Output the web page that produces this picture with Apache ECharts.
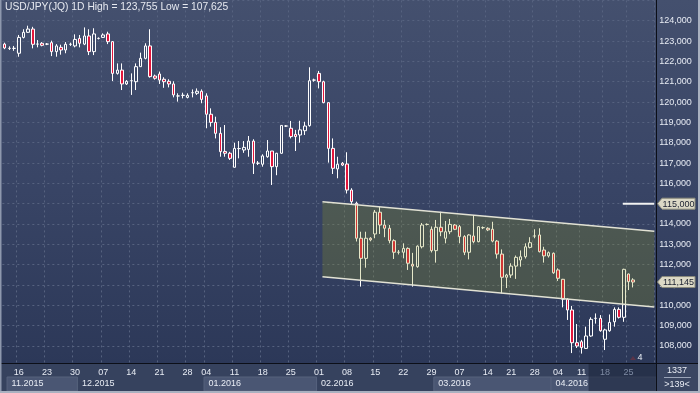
<!DOCTYPE html>
<html><head><meta charset="utf-8">
<script src="https://cdn.jsdelivr.net/npm/echarts@6/dist/echarts.min.js"></script>
<style>html,body{margin:0;padding:0;background:#2e3a58;}#c{width:700px;height:393px;}</style>
</head><body><div id="c"></div>
<script>
// ---- data ----
const opens = [122.85,122.64,122.64,122.40,123.18,123.43,123.59,122.85,122.89,122.85,
 122.92,122.48,122.69,122.56,122.84,122.76,123.13,122.85,123.25,122.48,
 123.13,123.18,123.35,122.97,121.41,121.57,120.89,121.05,121.00,121.74,
 122.15,122.76,121.28,121.38,121.12,121.02,120.89,120.30,120.33,120.23,
 120.46,120.43,120.53,120.30,119.40,119.00,118.46,117.57,117.48,116.79,
 117.71,117.64,117.67,118.08,116.99,116.94,117.31,117.59,116.82,117.48,
 118.82,118.71,118.41,118.38,118.59,118.84,121.08,121.41,121.00,119.97,
 117.72,116.71,116.99,116.95,115.67,115.02,113.30,112.31,113.30,113.51,
 114.58,113.95,113.79,113.18,112.61,112.61,112.80,112.02,111.90,112.88,
 113.98,113.74,112.69,113.84,113.30,113.62,113.95,113.87,113.38,112.61,
 113.41,113.13,113.82,113.79,113.74,113.16,112.52,111.38,111.49,111.93,
 112.23,112.39,112.85,113.41,113.46,112.72,112.43,112.56,111.74,111.28,
 110.30,109.77,108.16,108.21,107.88,108.49,109.36,109.36,108.33,108.75,
 109.19,109.80,109.41,111.54,111.25];
const closes = [122.66,122.64,122.64,123.18,123.43,123.59,122.84,122.85,122.79,122.85,
 122.48,122.76,122.56,122.84,122.84,123.08,122.89,123.25,122.48,123.35,
 123.13,123.30,122.97,121.41,121.57,120.89,121.02,121.05,121.74,122.15,
 122.76,121.25,121.17,121.08,121.00,120.89,120.35,120.30,120.33,120.33,
 120.46,120.53,120.13,119.40,119.00,118.46,117.56,117.48,117.23,117.72,
 117.71,117.77,118.08,116.99,116.99,117.35,117.59,116.82,117.48,118.85,
 118.82,118.30,118.30,118.63,118.82,121.05,121.08,121.00,119.97,117.72,
 116.74,116.94,116.90,115.67,115.10,113.30,112.31,113.30,113.22,114.58,
 113.95,113.79,113.18,112.61,112.61,112.80,112.07,111.93,112.91,113.95,
 113.98,112.69,113.84,113.62,113.62,113.98,113.74,113.38,112.61,113.46,
 113.13,113.87,113.82,113.71,113.16,112.52,111.38,111.49,111.93,112.36,
 112.39,112.88,113.08,113.41,112.64,112.43,112.59,111.60,111.33,110.30,
 109.77,108.16,108.00,107.92,108.49,109.31,109.36,108.75,108.79,109.16,
 109.80,109.41,111.77,111.16,111.145];
const lows = [122.60,122.56,122.52,122.23,123.13,123.40,122.64,122.69,122.74,122.80,
 122.26,122.23,122.33,122.40,122.76,122.69,122.69,122.80,122.31,122.31,
 123.08,123.15,122.85,121.03,121.35,120.59,120.84,120.35,120.59,121.74,
 122.10,121.20,121.10,120.89,120.70,120.72,120.23,120.02,120.18,120.18,
 120.23,120.35,119.94,118.71,118.79,118.21,117.31,117.31,117.15,116.79,
 117.23,117.50,117.31,116.46,116.90,116.82,117.26,115.92,116.40,117.45,
 118.78,118.21,117.59,118.00,118.38,118.79,121.00,120.67,119.94,117.02,
 116.46,116.25,116.85,115.50,114.95,113.14,110.92,111.85,113.15,113.30,
 113.51,113.35,113.05,112.28,112.50,112.31,111.74,110.92,111.85,112.80,
 113.93,112.60,112.10,113.40,113.05,113.50,113.70,113.05,112.47,112.26,
 113.05,113.10,113.75,113.65,113.10,112.30,110.59,110.85,111.35,111.30,
 111.90,112.30,112.80,113.30,112.60,112.10,112.35,111.55,111.20,109.90,
 109.28,107.65,107.90,107.625,107.85,108.45,109.10,108.70,107.80,108.70,
 108.95,109.35,109.19,110.75,110.88];
const highs = [122.92,122.74,122.76,123.30,123.58,123.755,123.70,123.05,122.95,122.90,
 123.02,122.85,122.82,122.95,122.92,123.33,123.30,123.67,123.58,123.63,
 123.18,123.38,123.46,123.00,121.90,121.90,121.08,121.41,121.90,122.43,
 122.89,123.58,121.35,121.50,121.22,121.12,121.02,120.43,120.46,120.43,
 120.62,120.67,120.62,120.43,119.69,119.28,118.76,118.87,117.55,118.00,
 118.08,118.08,118.33,118.17,117.10,117.43,118.13,117.59,117.50,118.85,
 118.86,119.07,118.63,119.08,119.03,121.71,121.15,121.53,121.05,119.97,
 118.21,117.31,117.05,117.53,115.76,115.10,113.62,113.62,113.35,114.69,
 114.85,114.20,113.95,113.25,112.72,113.05,112.85,112.58,112.95,114.05,
 114.03,113.88,114.20,114.60,114.15,114.25,114.00,113.95,113.45,113.50,
 114.44,113.90,113.88,113.84,114.11,113.21,112.75,111.55,112.07,112.45,
 112.70,113.05,113.35,113.74,113.79,112.88,112.65,112.60,111.82,111.30,
 110.35,109.97,109.08,108.30,108.95,109.41,109.60,109.52,108.85,109.55,
 109.90,109.90,111.80,111.56,111.33];
const slotCount = 139;
const tickIdx = [3,9,15,21,27,33,39,43,49,55,61,67,73,79,85,91,97,103,108,113,118,123,128,133];
const tickLabels = ['16','23','30','07','14','21','28','04','11','18','25','01','08','15','22','29','07','14','21','28','04','11','18','25'];
const monthStart = [1,16,43,67,92,117];
const monthLabels = ['11.2015','12.2015','01.2016','02.2016','03.2016','04.2016'];
const monthShaded = [true,false,true,false,true,true];
const chanX = [67.75, 138.5];
const chanTop = [115.10, 113.64];
const chanBot = [111.41, 109.92];
const levelX = [131.8, 138.5];
const levelValue = 115.0;
const lastPrice = 111.145;
const titleText = 'USD/JPY(JQ) 1D High = 123,755 Low = 107,625';
const footerTop = '1337';
const footerBottom = '>139<';
const futureFrom = 124.5;

// ---- chart ----
const FONT = 'Liberation Sans';
const FS = 9;
const chart = echarts.init(document.getElementById('c'));
const categories = Array.from({length: slotCount}, (_, i) => String(i));
const ohlc = opens.map((o, i) => [o, closes[i], lows[i], highs[i]]);
const tickMap = {};
tickIdx.forEach((k, j) => { tickMap[k] = tickLabels[j]; });
const fmt = v => v.toFixed(3).replace('.', ',');
const gridCol = '#56627f';

chart.setOption({
  animation: false,
  backgroundColor: '#2e3a58',
  title: {text: titleText, left: 5, top: 2, padding: 0,
    textStyle: {color: '#e6e9f0', fontSize: 10.3, fontWeight: 'normal', fontFamily: FONT}},
  grid: {left: 2.35, width: 651.9, top: 0.4, height: 365.9},
  xAxis: [
    {type: 'category', data: categories, boundaryGap: true, z: 0,
      axisLine: {show: false}, axisTick: {show: false}, axisLabel: {show: false},
      splitLine: {show: true, interval: (i) => (i in tickMap), lineStyle: {color: gridCol, type: [2, 3], width: 1}}},
    {type: 'value', min: -0.5, max: slotCount - 0.5, show: false},
    {type: 'category', data: categories, boundaryGap: true, position: 'bottom', z: 5,
      axisLine: {show: false}, axisTick: {show: false}, splitLine: {show: false},
      axisLabel: {interval: (i) => (i in tickMap), formatter: (v, i) => tickMap[i] || '',
        color: (v, i) => (Number(v) > futureFrom ? '#7f8ba3' : '#e8ecf4'),
        fontSize: FS, fontFamily: FONT, margin: 2}}
  ],
  yAxis: [{type: 'value', position: 'right', min: 107, max: 125, interval: 1,
    axisLine: {show: false}, axisTick: {show: false},
    splitLine: {lineStyle: {color: gridCol, type: [2, 3], width: 1}},
    axisLabel: {margin: 5, color: '#e8ecf4', fontSize: FS, fontFamily: FONT,
      formatter: v => (v < 107.5 || v > 124.5) ? '' : fmt(v)}}],
  series: [
    {type: 'candlestick', xAxisIndex: 0, yAxisIndex: 0, data: ohlc, barWidth: 3, z: 2,
      itemStyle: {color: 'rgba(0,0,0,0)', color0: '#e3163c', borderColor: '#ffffff',
        borderColor0: '#ffffff', borderColorDoji: '#ffffff', borderWidth: 1}},
    {type: 'custom', xAxisIndex: 1, yAxisIndex: 0, z: 4, clip: true, data: [[chanX[0], chanTop[0]]],
      renderItem: (params, api) => {
        const top = chanX.map((x, i) => api.coord([x, chanTop[i]]));
        const bot = chanX.map((x, i) => api.coord([x, chanBot[i]]));
        return {type: 'group', children: [
          {type: 'polygon', shape: {points: top.concat(bot.slice().reverse())},
            style: {fill: 'rgba(150,160,30,0.24)'}},
          {type: 'polyline', shape: {points: top}, style: {stroke: '#e2e2d4', lineWidth: 1.5, fill: null}},
          {type: 'polyline', shape: {points: bot}, style: {stroke: '#e2e2d4', lineWidth: 1.5, fill: null}}
        ]};
      }},
    {type: 'line', xAxisIndex: 1, yAxisIndex: 0, symbol: 'none', z: 4,
      data: levelX.map(x => [x, levelValue]),
      lineStyle: {color: '#f2f2f2', width: 2}}
  ]
});

const px = idx => chart.convertToPixel({xAxisIndex: 1}, idx);
const py = v => chart.convertToPixel({yAxisIndex: 0}, v);
const g = [];
g.push({type: 'rect', z: -100, silent: true, shape: {x: 0, y: 0, width: 700, height: 393},
  style: {fill: new echarts.graphic.LinearGradient(0, 0, 0, 1, [
    {offset: 0, color: '#44506e'}, {offset: 0.45, color: '#394566'}, {offset: 1, color: '#2a3656'}])}});
g.push({type: 'rect', z: 1, silent: true, shape: {x: 0, y: 363, width: 656, height: 30}, style: {fill: '#36425e'}});
monthStart.forEach((s, j) => {
  const x0 = px(s - 0.5);
  const x1 = j + 1 < monthStart.length ? px(monthStart[j + 1] - 0.5) : 656;
  if (monthShaded[j]) {
    g.push({type: 'rect', z: 1, silent: true, shape: {x: x0, y: 377, width: x1 - x0, height: 14},
      style: {fill: '#4a5673', stroke: '#56627d', lineWidth: 1}});
  }
});
const xf = px(futureFrom);
g.push({type: 'rect', z: 1, silent: true, shape: {x: xf, y: 363, width: 656 - xf, height: 30}, style: {fill: 'rgba(28,38,62,0.6)'}});
monthStart.forEach((s, j) => {
  g.push({type: 'text', z: 6, silent: true, x: px(s - 0.5) + 4.5, y: 383.5,
    style: {text: monthLabels[j], fill: '#e8ecf4', font: FS + 'px ' + FONT, textVerticalAlign: 'middle'}});
});
g.push({type: 'rect', z: 1, silent: true, shape: {x: 656, y: 363, width: 44, height: 30}, style: {fill: '#3a4662'}});
g.push({type: 'text', z: 6, silent: true, x: 677, y: 371, style: {text: footerTop, fill: '#e8ecf4', font: FS + 'px ' + FONT, textAlign: 'center', textVerticalAlign: 'middle'}});
g.push({type: 'line', z: 6, silent: true, shape: {x1: 664, y1: 377.5, x2: 691, y2: 377.5}, style: {stroke: '#9aa4b8', lineWidth: 1}});
g.push({type: 'text', z: 6, silent: true, x: 677, y: 384.5, style: {text: footerBottom, fill: '#e8ecf4', font: FS + 'px ' + FONT, textAlign: 'center', textVerticalAlign: 'middle'}});
g.push({type: 'line', z: 7, silent: true, shape: {x1: 0, y1: 363.5, x2: 700, y2: 363.5}, style: {stroke: '#0c0f18', lineWidth: 1}});
g.push({type: 'line', z: 7, silent: true, shape: {x1: 656.5, y1: 0, x2: 656.5, y2: 393}, style: {stroke: '#0c0f18', lineWidth: 1}});
g.push({type: 'rect', z: 8, silent: true, shape: {x: 0, y: 0, width: 1.5, height: 393}, style: {fill: '#8e98ad'}});
g.push({type: 'rect', z: 8, silent: true, shape: {x: 698, y: 0, width: 2, height: 393}, style: {fill: '#a9b1c0'}});
g.push({type: 'rect', z: 8, silent: true, shape: {x: 0, y: 391, width: 700, height: 2}, style: {fill: '#a9b1c0'}});
g.push({type: 'polygon', z: 6, silent: true, shape: {points: [[630, 360], [633, 356], [636, 360]]}, style: {fill: '#5a3448'}});
g.push({type: 'text', z: 6, silent: true, x: 640, y: 358, style: {text: '4', fill: '#e8ecf4', font: FS + 'px ' + FONT, textAlign: 'center', textVerticalAlign: 'middle'}});
[levelValue, lastPrice].forEach(v => {
  const y = py(v);
  g.push({type: 'polygon', z: 9, silent: true,
    shape: {points: [[657.5, y], [662, y - 5.5], [695, y - 5.5], [695, y + 5.5], [662, y + 5.5]]},
    style: {fill: '#dcd9c6', stroke: '#8b8b7c', lineWidth: 1}});
  g.push({type: 'text', z: 10, silent: true, x: 678.5, y: y + 0.5,
    style: {text: fmt(v), fill: '#1b2030', font: FS + 'px ' + FONT, textAlign: 'center', textVerticalAlign: 'middle'}});
});
chart.setOption({graphic: g});
</script></body></html>
